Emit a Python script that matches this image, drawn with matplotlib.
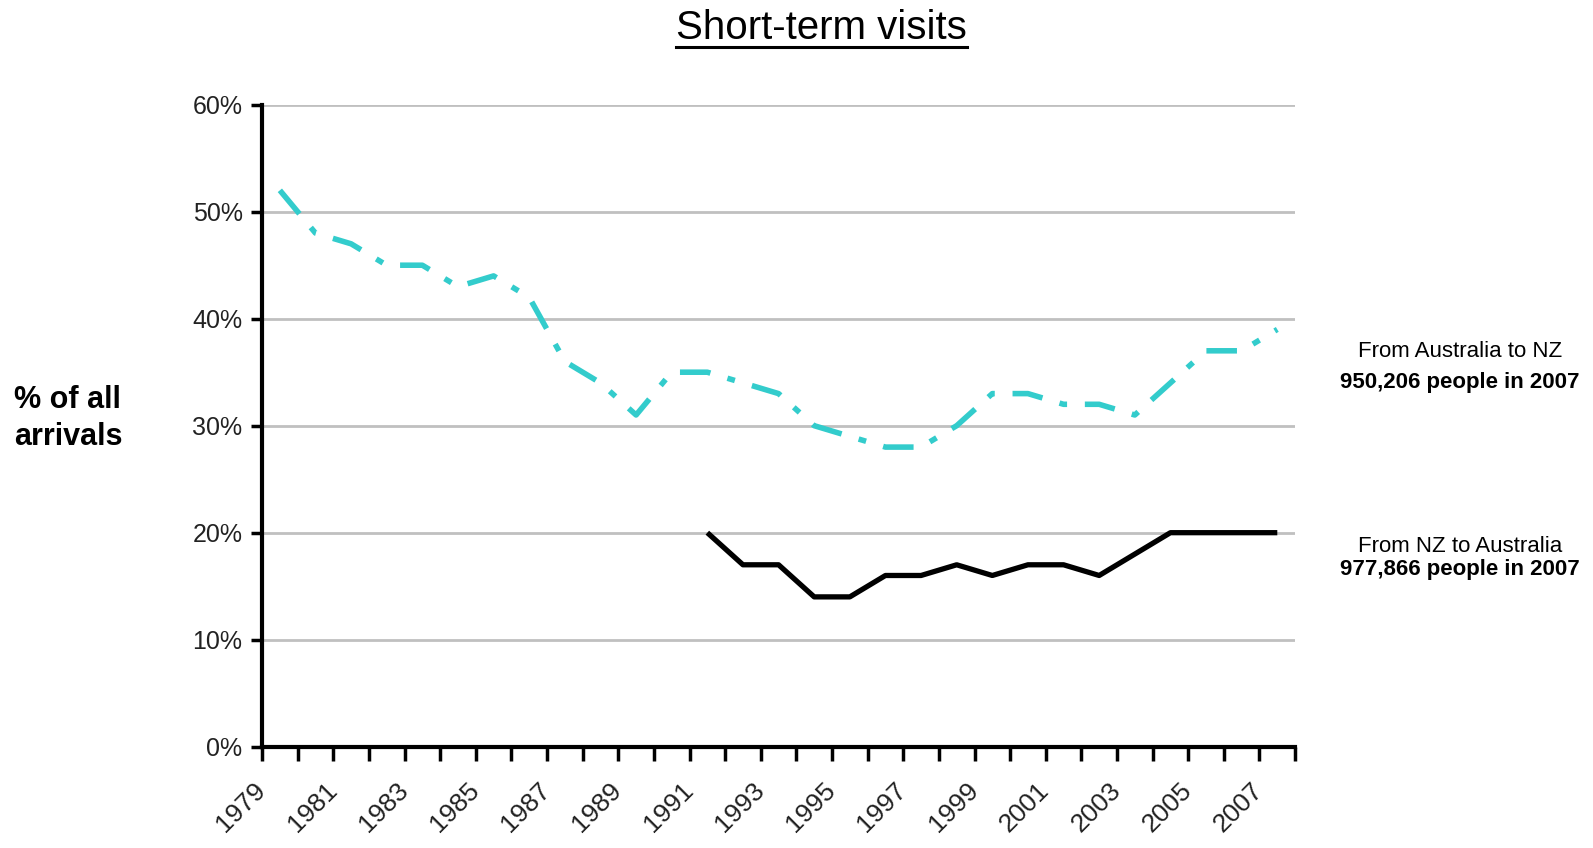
import matplotlib.pyplot as plt
import numpy as np
from matplotlib.lines import Line2D
from matplotlib.transforms import ScaledTranslation

years = list(range(1979, 2008))
aus_to_nz = [52, 48, 47, 45, 45, 43, 44, 42, 36, 34, 31, 35, 35, 34, 33,
             30, 29, 28, 28, 30, 33, 33, 32, 32, 31, 34, 37, 37, 39]
nz_to_aus = [None] * 12 + [20, 17, 17, 14, 14, 16, 16, 17, 16, 17, 17,
                           16, 18, 20, 20, 20, 20]
y_ticks = [0, 10, 20, 30, 40, 50, 60]

plt.rcParams['font.family'] = ['Liberation Sans', 'DejaVu Sans']

fig = plt.figure(figsize=(15.93, 8.48), dpi=100)
ax = fig.add_axes([0.1645, 0.1195, 0.6485, 0.757])

x = np.arange(len(years))
aus = np.array(aus_to_nz, dtype=float)
nz = np.array([np.nan if v is None else v for v in nz_to_aus], dtype=float)

ax.plot(x, aus, color='#33CCCC', lw=4.0, dashes=(5.5, 3.2, 1.4, 3.2),
        solid_capstyle='butt', dash_capstyle='butt', zorder=3)
ax.plot(x, nz, color='black', lw=3.8, solid_capstyle='butt', zorder=3)

ax.set_xlim(-0.5, len(years) - 0.5)
ax.set_ylim(0, 60)

# tick marks sit on the category boundaries
ax.set_xticks(np.arange(-0.5, len(years)))
ax.set_xticklabels([])
ax.tick_params(axis='x', direction='out', length=10, width=2.5)

# year labels on every other category, rotated like the Excel original
shift = ScaledTranslation(-0.18, -0.40, fig.dpi_scale_trans)
for xi, yr in zip(x[::2], years[::2]):
    ax.text(xi, 0, str(yr), transform=ax.get_xaxis_transform() + shift,
            rotation=45, rotation_mode='anchor', ha='right', va='center',
            fontsize=19, color='#222222')

ax.set_yticks(y_ticks, [f"{v}%" for v in y_ticks])
ax.tick_params(axis='y', direction='out', length=8, width=2.5, labelsize=18,
               labelcolor='#222222', pad=6)

ax.grid(axis='y', color='#C0C0C0', lw=2)
ax.set_axisbelow(True)
for s in ['top', 'right']:
    ax.spines[s].set_visible(False)
for s in ['left', 'bottom']:
    ax.spines[s].set_linewidth(3)

fig.text(0.009, 0.506, "% of all\narrivals", fontsize=22, fontweight='bold',
         ha='left', va='center', linespacing=1.3)

fig.text(0.9165, 0.585, "From Australia to NZ", fontsize=16, ha='center', va='center')
fig.text(0.9165, 0.549, "950,206 people in 2007", fontsize=16, fontweight='bold',
         ha='center', va='center')
fig.text(0.9165, 0.356, "From NZ to Australia", fontsize=16, ha='center', va='center')
fig.text(0.9165, 0.328, "977,866 people in 2007", fontsize=16, fontweight='bold',
         ha='center', va='center')

title = fig.text(0.5155, 0.967, "Short-term visits", fontsize=29,
                 ha='center', va='center')
fig.canvas.draw()
bb = title.get_window_extent().transformed(fig.transFigure.inverted())
fig.add_artist(Line2D([bb.x0, bb.x1], [0.944, 0.944], color='black', lw=2.2,
                      transform=fig.transFigure))

plt.savefig("out.png", dpi=100)
